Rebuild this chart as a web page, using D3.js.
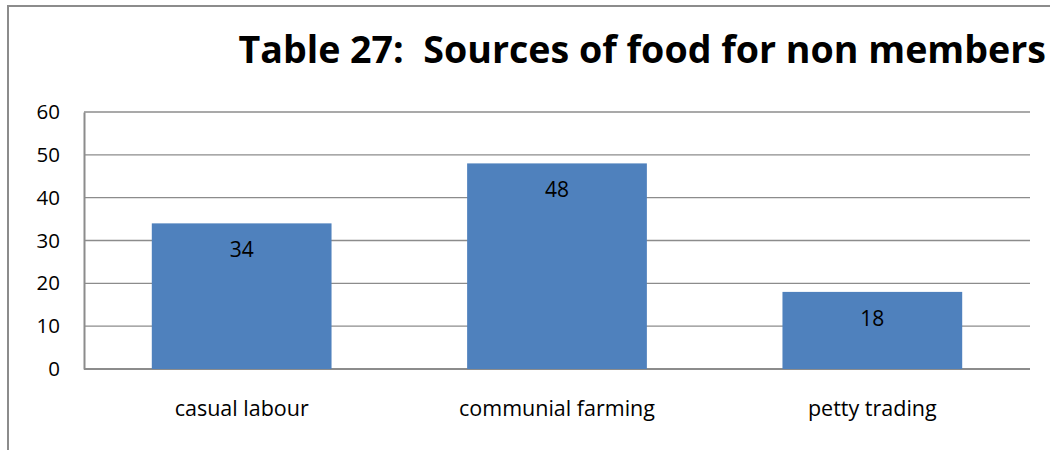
<!DOCTYPE html>
<html>
<head>
<meta charset="utf-8">
<script src="https://cdn.jsdelivr.net/npm/d3@7"></script>
<style>
  body { margin: 0; background: #fff; }
  svg { display: block; font-family: "Open Sans", Lato, sans-serif; }
</style>
</head>
<body>
<script>
var categories = ["casual labour", "communial farming", "petty trading"];
var values = [34, 48, 18];
var yTicks = [0, 10, 20, 30, 40, 50, 60];
var title = "Table 27:  Sources of food for non members";

var width = 1050, height = 450;
var margin = {left: 84, right: 20, top: 112, bottom: 81};
var font = "'Open Sans', Lato, sans-serif";

var svg = d3.select("body").append("svg")
    .attr("width", width)
    .attr("height", height);

// outer frame of the chart object (runs off right and bottom)
svg.append("path")
    .attr("d", "M8," + height + "V6H" + width)
    .attr("fill", "none")
    .attr("stroke", "#8c8c8c")
    .attr("stroke-width", 2);

svg.append("text")
    .attr("x", 1046)
    .attr("y", 63)
    .attr("text-anchor", "end")
    .attr("font-size", 37.6)
    .attr("font-weight", "bold")
    .attr("fill", "#000")
    .style("white-space", "pre")
    .text(title);

var x = d3.scaleBand()
    .domain(categories)
    .range([margin.left, width - margin.right])
    .paddingInner(0.43)
    .paddingOuter(0.215);

var y = d3.scaleLinear()
    .domain([0, 60])
    .range([height - margin.bottom, margin.top]);

// gridlines
svg.append("g")
    .selectAll("line")
    .data(yTicks)
    .enter().append("line")
    .attr("x1", margin.left)
    .attr("x2", width - margin.right)
    .attr("y1", function(d) { return y(d); })
    .attr("y2", function(d) { return y(d); })
    .attr("stroke", "#8c8c8c")
    .attr("stroke-width", function(d) { return d === 0 ? 2 : 1.3; });

// y axis
var yAxis = svg.append("g")
    .attr("transform", "translate(" + margin.left + ",0)")
    .call(d3.axisLeft(y).tickValues(yTicks).tickSize(0).tickPadding(24));
yAxis.select(".domain").attr("stroke", "#8c8c8c").attr("stroke-width", 2);
yAxis.selectAll("text")
    .attr("font-size", 20.5)
    .attr("font-family", font)
    .attr("fill", "#000");

// bars
svg.append("g")
    .selectAll("rect")
    .data(values)
    .enter().append("rect")
    .attr("x", function(d, i) { return x(categories[i]); })
    .attr("width", x.bandwidth())
    .attr("y", function(d) { return y(d); })
    .attr("height", function(d) { return y(0) - y(d); })
    .attr("fill", "#4f81bd");

// value labels
svg.append("g")
    .selectAll("text")
    .data(values)
    .enter().append("text")
    .attr("x", function(d, i) { return x(categories[i]) + x.bandwidth() / 2; })
    .attr("y", function(d) { return y(d) + 34; })
    .attr("text-anchor", "middle")
    .attr("font-size", 21)
    .attr("fill", "#000")
    .text(function(d) { return d; });

// x axis labels
var xAxis = svg.append("g")
    .attr("transform", "translate(0," + y(0) + ")")
    .call(d3.axisBottom(x).tickSize(0).tickPadding(32));
xAxis.select(".domain").remove();
xAxis.selectAll("text")
    .attr("font-size", 21.5)
    .attr("font-family", font)
    .attr("fill", "#000");
</script>
</body>
</html>
